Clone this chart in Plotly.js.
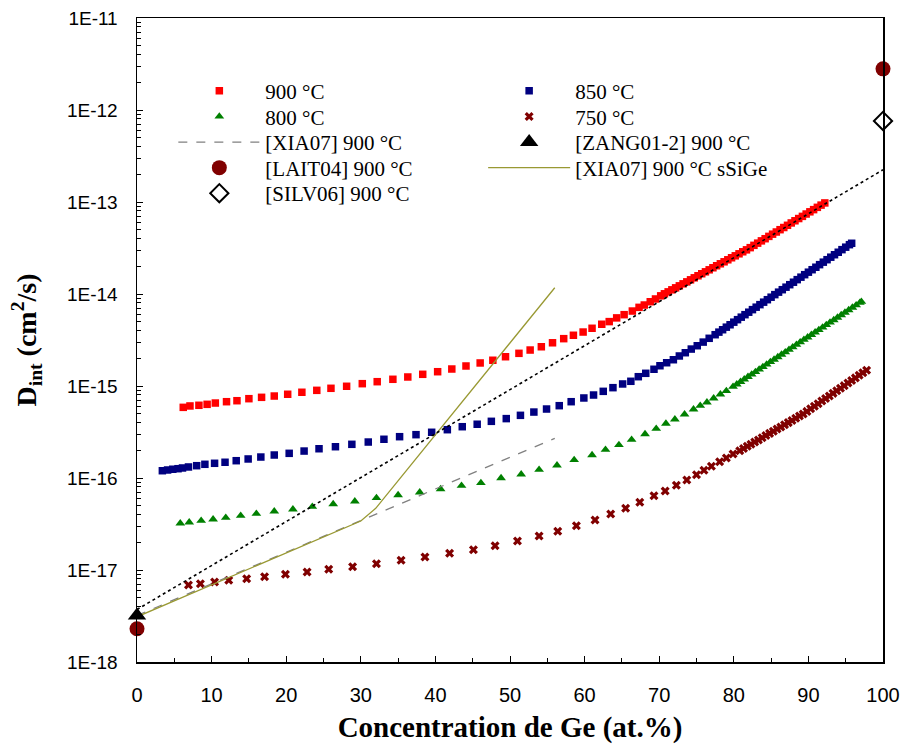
<!DOCTYPE html>
<html>
<head>
<meta charset="utf-8">
<script src="https://cdn.plot.ly/plotly-3.0.1.min.js"></script>
<style>html,body{margin:0;padding:0;background:#fff;}#chart{width:904px;height:749px;}</style>
</head>
<body>
<div id="chart"></div>
<script>
// ---- Data ----
const x900 = [6.2,7.1,8.3,9.4,10.5,12.0,13.4,15.0,16.7,18.4,20.2,22.1,24.1,26.0,28.1,30.2,32.2,34.3,36.3,38.3,40.3,42.2,44.1,46.0,47.7,49.4,51.2,52.7,54.2,55.7,57.2,58.5,59.8,61.0,62.3,63.3,64.3,65.3,66.4,67.3,68.0,68.8,69.5,70.2,
  70.7,71.2,71.7,72.2,72.7,73.2,73.7,74.2,74.7,75.2,75.7,76.2,76.7,77.2,77.7,78.2,78.7,79.2,79.7,80.2,80.7,81.2,81.7,82.2,82.7,83.2,83.7,84.2,84.7,85.2,85.7,86.2,86.7,87.2,87.7,88.2,88.7,89.2,89.7,90.2,90.7,91.2,91.7,92.2];
const d900 = [5.86e-16,6.07e-16,6.17e-16,6.32e-16,6.53e-16,6.75e-16,6.92e-16,7.28e-16,7.53e-16,7.78e-16,8.13e-16,8.55e-16,8.97e-16,9.44e-16,9.93e-16,1.06e-15,1.114e-15,1.183e-15,1.253e-15,1.34e-15,1.43e-15,1.53e-15,1.65e-15,1.78e-15,1.905e-15,2.08e-15,2.265e-15,2.46e-15,2.67e-15,2.95e-15,3.27e-15,3.56e-15,3.86e-15,4.24e-15,4.69e-15,5.01e-15,5.50e-15,5.96e-15,6.53e-15,7.16e-15,7.59e-15,8.24e-15,8.83e-15,9.55e-15,
  1.005e-14,1.055e-14,1.11e-14,1.167e-14,1.227e-14,1.29e-14,1.355e-14,1.426e-14,1.5e-14,1.578e-14,1.66e-14,1.742e-14,1.832e-14,1.928e-14,2.028e-14,2.13e-14,2.239e-14,2.355e-14,2.477e-14,2.6e-14,2.735e-14,2.877e-14,3.02e-14,3.19e-14,3.38e-14,3.57e-14,3.78e-14,3.99e-14,4.23e-14,4.47e-14,4.72e-14,5.0e-14,5.28e-14,5.58e-14,5.92e-14,6.25e-14,6.61e-14,6.98e-14,7.4e-14,7.82e-14,8.26e-14,8.75e-14,9.25e-14,9.77e-14];

const x850 = [3.4,4.1,4.8,5.5,6.1,6.9,8.0,9.1,10.4,11.8,13.3,14.9,16.6,18.4,20.4,22.4,24.4,26.6,28.8,31.0,33.1,35.2,37.4,39.5,41.6,43.6,45.6,47.5,49.5,51.4,53.2,54.9,56.6,58.2,59.9,61.2,62.5,63.8,65.1,66.2,67.2,68.2,69.3,70.1,71.0,71.9,72.7,73.5,74.3,75.1,75.9,76.7,77.5,
  78.0,78.5,79.0,79.5,80.0,80.5,81.0,81.5,82.0,82.5,83.0,83.5,84.0,84.5,85.0,85.5,86.0,86.5,87.0,87.5,88.0,88.5,89.0,89.5,90.0,90.5,91.0,91.5,92.0,92.5,93.0,93.5,94.0,94.5,95.0,95.5,95.8];
const d850 = [1.2e-16,1.222e-16,1.245e-16,1.262e-16,1.285e-16,1.318e-16,1.361e-16,1.409e-16,1.445e-16,1.483e-16,1.542e-16,1.61e-16,1.69e-16,1.778e-16,1.854e-16,1.963e-16,2.08e-16,2.188e-16,2.323e-16,2.46e-16,2.636e-16,2.812e-16,2.958e-16,3.14e-16,3.35e-16,3.61e-16,3.84e-16,4.13e-16,4.42e-16,4.8e-16,5.21e-16,5.62e-16,6.11e-16,6.75e-16,7.41e-16,7.98e-16,8.75e-16,9.59e-16,1.052e-15,1.125e-15,1.262e-15,1.374e-15,1.52e-15,1.66e-15,1.79e-15,1.93e-15,2.12e-15,2.3e-15,2.52e-15,2.74e-15,3.0e-15,3.3e-15,3.61e-15,
  3.85e-15,4.09e-15,4.36e-15,4.63e-15,4.94e-15,5.26e-15,5.6e-15,5.96e-15,6.34e-15,6.76e-15,7.19e-15,7.66e-15,8.15e-15,8.67e-15,9.23e-15,9.84e-15,1.047e-14,1.114e-14,1.186e-14,1.262e-14,1.343e-14,1.432e-14,1.524e-14,1.622e-14,1.726e-14,1.837e-14,1.954e-14,2.084e-14,2.218e-14,2.36e-14,2.512e-14,2.673e-14,2.844e-14,3.034e-14,3.228e-14,3.436e-14,3.56e-14];

const x800 = [5.8,7.0,8.6,10.2,11.9,13.9,16.0,18.4,20.9,23.5,26.3,29.2,32.1,35.0,37.9,40.7,43.5,46.1,48.8,51.5,53.9,56.3,58.6,61.0,62.8,64.6,66.3,68.1,69.6,70.9,72.1,73.4,74.6,75.5,76.4,77.3,78.2,79.0,79.9,
  80.4,80.9,81.4,81.9,82.4,82.9,83.4,83.9,84.4,84.9,85.4,85.9,86.4,86.9,87.4,87.9,88.4,88.9,89.4,89.9,90.4,90.9,91.4,91.9,92.4,92.9,93.4,93.9,94.4,94.9,95.4,95.9,96.4,96.9,97.1];
const d800 = [3.22e-17,3.3e-17,3.44e-17,3.56e-17,3.7e-17,3.89e-17,4.09e-17,4.35e-17,4.57e-17,4.88e-17,5.21e-17,5.58e-17,6.07e-17,6.53e-17,7.0e-17,7.59e-17,8.26e-17,8.83e-17,1.0e-16,1.096e-16,1.23e-16,1.374e-16,1.57e-16,1.778e-16,2.03e-16,2.29e-16,2.61e-16,3.0e-16,3.44e-16,3.9e-16,4.35e-16,4.92e-16,5.58e-16,6.11e-16,6.65e-16,7.34e-16,8.13e-16,8.83e-16,9.82e-16,
  1.044e-15,1.112e-15,1.183e-15,1.259e-15,1.337e-15,1.422e-15,1.514e-15,1.611e-15,1.714e-15,1.824e-15,1.941e-15,2.065e-15,2.193e-15,2.333e-15,2.483e-15,2.642e-15,2.812e-15,2.992e-15,3.184e-15,3.388e-15,3.597e-15,3.828e-15,4.074e-15,4.335e-15,4.613e-15,4.909e-15,5.212e-15,5.546e-15,5.902e-15,6.281e-15,6.683e-15,7.112e-15,7.568e-15,8.054e-15,8.24e-15];

const x750 = [6.9,8.5,10.4,12.3,14.7,17.1,19.9,22.8,25.7,28.9,32.1,35.4,38.6,41.9,45.1,48.0,51.0,53.9,56.4,58.9,61.4,63.5,65.5,67.4,69.3,70.8,72.3,73.7,75.0,76.0,77.0,78.1,79.0,79.9,80.8,
  81.3,81.8,82.3,82.8,83.3,83.8,84.3,84.8,85.3,85.8,86.3,86.8,87.3,87.8,88.3,88.8,89.3,89.8,90.3,90.8,91.3,91.8,92.3,92.8,93.3,93.8,94.3,94.8,95.3,95.8,96.3,96.8,97.3,97.8];
const d750 = [6.87e-18,7.1e-18,7.41e-18,7.73e-18,8.04e-18,8.45e-18,8.97e-18,9.51e-18,1.019e-17,1.086e-17,1.169e-17,1.274e-17,1.384e-17,1.521e-17,1.663e-17,1.837e-17,2.065e-17,2.344e-17,2.636e-17,3.034e-17,3.491e-17,4.064e-17,4.688e-17,5.445e-17,6.427e-17,7.228e-17,8.337e-17,9.506e-17,1.086e-16,1.213e-16,1.343e-16,1.503e-16,1.648e-16,1.824e-16,1.982e-16,
  2.089e-16,2.208e-16,2.328e-16,2.46e-16,2.594e-16,2.742e-16,2.891e-16,3.055e-16,3.221e-16,3.404e-16,3.589e-16,3.793e-16,3.999e-16,4.227e-16,4.457e-16,4.71e-16,4.966e-16,5.297e-16,5.649e-16,6.026e-16,6.427e-16,6.855e-16,7.311e-16,7.798e-16,8.318e-16,8.872e-16,9.462e-16,1.009e-15,1.076e-15,1.148e-15,1.225e-15,1.306e-15,1.393e-15,1.486e-15];

const xFit = [0, 100];               // dotted exponential trend
const dFit = [3.72e-18, 2.24e-13];
const xXia = [0, 56];                // [XIA07] 900 °C
const dXia = [3.2e-18, 2.70e-16];
const xXiaS = [0, 30, 32, 56];       // [XIA07] 900 °C sSiGe
const dXiaS = [3.1e-18, 3.41e-17, 4.68e-17, 1.17e-14];
const xZang = [0];                   // [ZANG01-2] 900 °C
const dZang = [3.2e-18];
const xLait = [0, 100];              // [LAIT04] 900 °C
const dLait = [2.3e-18, 2.8e-12];
const xSilv = [100];                 // [SILV06] 900 °C
const dSilv = [7.6e-13];

const xTickVals = [0,10,20,30,40,50,60,70,80,90,100];
const xTickText = ['0','10','20','30','40','50','60','70','80','90','100'];
const yTickVals = [1e-18,1e-17,1e-16,1e-15,1e-14,1e-13,1e-12,1e-11];
const yTickText = ['1E-18','1E-17','1E-16','1E-15','1E-14','1E-13','1E-12','1E-11'];

// minor log ticks (2..9 within each decade)
const yMinor = [];
for (let e = -18; e < -11; e++) for (let m = 2; m <= 9; m++) yMinor.push(m * Math.pow(10, e));

const serif = 'Liberation Serif, Times New Roman, serif';
const sans = 'Liberation Sans, Arial, sans-serif';

const traces = [
  {x: x900, y: d900, name: '900 °C', mode: 'markers', legend: 'legend',
   marker: {symbol: 'square', size: 7.5, color: '#FF0000'}},
  {x: x850, y: d850, name: '850 °C', mode: 'markers', legend: 'legend2',
   marker: {symbol: 'square', size: 7.5, color: '#000080'}},
  {x: x800, y: d800, name: '800 °C', mode: 'markers', legend: 'legend3',
   marker: {symbol: 'triangle-up', size: 8.5, color: '#008000'}},
  {x: x750, y: d750, name: '750 °C', mode: 'markers', legend: 'legend4',
   marker: {symbol: 'x', size: 8, color: '#800000'}},
  {x: xXia, y: dXia, name: '[XIA07] 900 °C', mode: 'lines', legend: 'legend5',
   line: {color: '#808080', width: 1.3, dash: 'dash'}},
  {x: xXiaS, y: dXiaS, name: '[XIA07] 900 °C sSiGe', mode: 'lines', legend: 'legend8',
   line: {color: '#999933', width: 1.3}},
  {x: xFit, y: dFit, name: 'trend', mode: 'lines', showlegend: false,
   line: {color: '#000000', width: 1.6, dash: 'dot'}},
  {x: xZang, y: dZang, name: '[ZANG01-2] 900 °C', mode: 'markers', legend: 'legend6', cliponaxis: false,
   marker: {symbol: 'triangle-up', size: 16, color: '#000000'}},
  {x: xLait, y: dLait, name: '[LAIT04] 900 °C', mode: 'markers', legend: 'legend7', cliponaxis: false,
   marker: {symbol: 'circle', size: 15, color: '#800000'}},
  {x: xSilv, y: dSilv, name: '[SILV06] 900 °C', mode: 'markers', legend: 'legend9', cliponaxis: false,
   marker: {symbol: 'diamond-open', size: 14, color: '#000000', line: {width: 2, color: '#000000'}}}
];

const legendBase = {
  orientation: 'v', xanchor: 'left', yanchor: 'top', bgcolor: 'rgba(0,0,0,0)',
  borderwidth: 0, font: {family: serif, size: 21, color: '#000'}, itemwidth: 82
};
const colL = 0.0487, colR = 0.464;
const rowY = [0.9182, 0.8784, 0.8387, 0.7989, 0.7592];
function leg(x, y) { return Object.assign({}, legendBase, {x: x, y: y}); }

const layout = {
  width: 904, height: 749,
  margin: {l: 137, r: 21, t: 18, b: 87},
  paper_bgcolor: '#ffffff', plot_bgcolor: '#ffffff',
  showlegend: true,
  legend: leg(colL, rowY[0]),
  legend2: leg(colR, rowY[0]),
  legend3: leg(colL, rowY[1]),
  legend4: leg(colR, rowY[1]),
  legend5: leg(colL, rowY[2]),
  legend6: leg(colR, rowY[2]),
  legend7: leg(colL, rowY[3]),
  legend8: leg(colR, rowY[3]),
  legend9: leg(colL, rowY[4]),
  xaxis: {
    range: [0, 100], showgrid: false, zeroline: false,
    showline: true, linecolor: '#000', linewidth: 1.5, mirror: true,
    tickmode: 'array', tickvals: xTickVals, ticktext: xTickText,
    ticks: 'inside', ticklen: 6, tickwidth: 1, tickcolor: '#000',
    minor: {dtick: 5, ticks: 'inside', ticklen: 4, tickcolor: '#000', showgrid: false},
    tickfont: {family: sans, size: 20, color: '#000'},
    ticklabelstandoff: 14,
    title: {text: '<b>Concentration de Ge (at.%)</b>', font: {family: serif, size: 29, color: '#000'}, standoff: 12}
  },
  yaxis: {
    type: 'log', range: [-18, -11], showgrid: false, zeroline: false,
    showline: true, linecolor: '#000', linewidth: 1.5, mirror: true,
    tickmode: 'array', tickvals: yTickVals, ticktext: yTickText,
    ticks: 'inside', ticklen: 6, tickwidth: 1, tickcolor: '#000',
    minor: {tickmode: 'array', tickvals: yMinor, ticks: 'inside', ticklen: 4, tickcolor: '#000', showgrid: false},
    tickfont: {family: sans, size: 19, color: '#000'},
    ticklabelstandoff: 14,
    title: {text: '<b>D<sub>int</sub> (cm<sup>2</sup>/s)</b>', font: {family: serif, size: 28, color: '#000'}, standoff: 22}
  }
};

Plotly.newPlot('chart', traces, layout, {displayModeBar: false, staticPlot: true});
</script>
</body>
</html>
